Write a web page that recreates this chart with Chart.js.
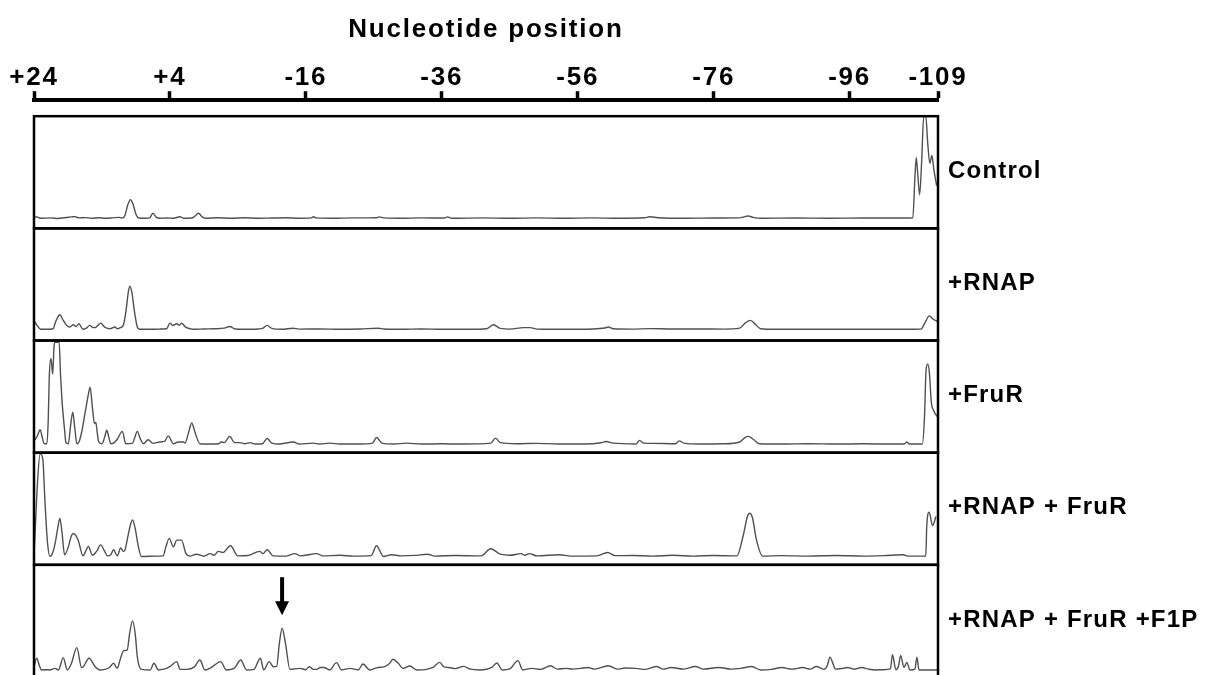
<!DOCTYPE html>
<html lang="en">

<head>
    <meta charset="UTF-8">
    <title>Nucleotide position</title>
    <script src="https://cdn.jsdelivr.net/npm/chart.js"></script>
    <style>
        body {
            margin: 0;
            background: #fff;
            overflow: hidden;
        }
    </style>
</head>

<body>
    <canvas id="traces" width="1205" height="690"></canvas>

    <script>
        // tick marks on the top axis (nucleotide position)
        const tickValues = [24, 4, -16, -36, -56, -76, -96, -109];
        const panelLabels = ['Control', '+RNAP', '+FruR', '+RNAP + FruR', '+RNAP + FruR +F1P'];

        // [position, intensity], intensity in % of panel height
        const controlTrace = [
            [24, 9], [23.8, 10.5], [23, 9], [21.5, 9.3], [20.5, 8.8], [19.5, 9.5], [18.5, 10.2], [18, 10.5],
            [17.4, 9.3], [16.5, 9.6], [15.5, 9], [14.5, 9.4], [13.5, 9], [12.5, 9.3], [11.5, 9.8], [11, 9.2],
            [10.6, 12], [10.2, 21], [9.8, 25.5], [9.4, 21], [9, 12.5], [8.6, 9.2], [7.5, 9], [7, 9.3],
            [6.5, 13.5], [6, 9.8], [5.5, 9], [4.5, 9.2], [3.5, 9], [2.5, 10.3], [2, 9], [0.8, 9.2],
            [0.3, 11], [-0.2, 13.5], [-0.7, 10.5], [-1.2, 9], [-3, 9.4], [-5, 9], [-7, 9.5], [-9, 9],
            [-11, 9.2], [-13, 9.4], [-15, 9], [-16.8, 9.3], [-17.1, 10.3], [-17.5, 9.3], [-20, 9], [-23, 9.3],
            [-26.4, 9.5], [-26.8, 10.2], [-27.5, 9.3], [-30, 9], [-33, 9.3], [-36.4, 9.2], [-36.8, 10.2],
            [-37.5, 9], [-42, 9.3], [-46, 9], [-50, 9.3], [-54, 9], [-58, 9.3], [-62, 9], [-65.8, 9.4],
            [-66.6, 10.3], [-67.8, 9.5], [-72, 9], [-76, 9.2], [-79.8, 9.3], [-80.6, 10.5], [-81.1, 11],
            [-81.8, 9.8], [-83, 9], [-88, 9.2], [-93, 9], [-98, 9.2], [-103, 9.2], [-105.3, 9.5],
            [-105.6, 45], [-105.8, 63], [-106, 50], [-106.3, 30], [-106.6, 60], [-106.9, 100], [-107.2, 100],
            [-107.5, 75], [-107.8, 58], [-108.1, 65], [-108.4, 52], [-108.8, 38]
        ];

        const rnapTrace = [
            [24, 18], [23.6, 14], [23, 10], [22, 10], [21.2, 10.5], [20.8, 17], [20.2, 23], [19.7, 18],
            [19.2, 13.5], [18.8, 12], [18.2, 14], [17.8, 12.5], [17.4, 15], [16.8, 10], [16.3, 11], [15.8, 13.5],
            [15.3, 11.5], [15, 11.5], [14.6, 13.5], [14.2, 15.5], [13.6, 12], [12.8, 10.5], [12.1, 12],
            [11.7, 10.5], [11.3, 11.5], [10.9, 13], [10.5, 25], [10.1, 44], [9.9, 48.5], [9.6, 43], [9.2, 25],
            [8.8, 12], [8.5, 10], [7, 10], [5.5, 10.2], [4.5, 10.5], [4, 15.5], [3.6, 13.5], [3, 15],
            [2.6, 13.5], [2.3, 15.5], [1.7, 12], [1, 10.5], [0.6, 10], [-1, 10.3], [-2.5, 10.5], [-4, 11],
            [-4.8, 12.5], [-5.6, 10.3], [-7, 10], [-9, 10.3], [-9.7, 11], [-10.3, 13.5], [-11, 10.8],
            [-12.5, 10], [-14.1, 11], [-15, 10.2], [-18, 10.3], [-21, 10], [-24, 10.3], [-26.6, 11],
            [-27.5, 10.3], [-30, 10], [-33, 10.3], [-36, 10], [-40, 10], [-42.6, 10.5], [-43.6, 14],
            [-44.6, 10.8], [-46, 10.2], [-48, 11.5], [-49, 11.5], [-50, 10.2], [-52, 10], [-56, 10],
            [-60, 11.2], [-60.5, 12], [-61.2, 10.5], [-64, 10.2], [-66.6, 10.6], [-70, 10.3], [-74, 10.3],
            [-77.5, 10.2], [-79.8, 11], [-80.7, 16], [-81.4, 18], [-82.2, 14], [-82.9, 10.5], [-85, 10],
            [-90, 10], [-95, 10], [-100, 10], [-104, 10], [-106.5, 10.2], [-107.1, 16], [-107.7, 22],
            [-108.3, 19], [-108.9, 17]
        ];

        const fruRTrace = [
            [24, 10.5], [23.5, 15], [23.1, 20.5], [22.8, 14], [22.5, 8], [22.1, 8], [21.9, 30], [21.75, 68],
            [21.5, 84], [21.25, 70], [21.05, 95], [20.9, 98.5], [20.3, 98.5], [20.1, 70], [19.9, 48], [19.7, 33],
            [19.5, 20], [19.3, 9], [18.95, 8], [18.6, 25], [18.3, 36], [18, 22], [17.7, 8], [17.35, 10],
            [17, 18], [16.5, 35], [16, 52], [15.75, 58.3], [15.4, 40], [15.1, 26], [14.9, 27], [14.7, 18],
            [14.5, 10], [14, 8], [13.6, 14], [13.3, 20], [13, 14], [12.7, 8], [12.2, 9], [11.75, 12],
            [11, 19], [10.5, 8], [9.5, 8.5], [9.2, 13], [8.8, 19], [8.4, 13], [7.9, 8], [7.2, 11.5],
            [6.5, 8.3], [5.5, 9.5], [4.8, 10], [4.25, 15], [3.5, 8], [2.8, 9.5], [2, 9.5], [1.8, 8.5],
            [1.3, 17], [0.8, 26.5], [0.3, 18], [-0.4, 8], [-2, 7.7], [-3.2, 8], [-3.5, 9.5], [-4, 9],
            [-4.8, 14.5], [-5.5, 9], [-6.3, 9], [-7, 8], [-7.8, 9], [-8.5, 7.7], [-9.6, 8], [-10.3, 12.7],
            [-11, 8.5], [-12, 7.7], [-14.2, 9.5], [-15, 7.7], [-17.1, 8.5], [-18, 7.7], [-19.5, 8.5],
            [-21, 7.7], [-24, 7.7], [-25.8, 8.5], [-26.4, 13.5], [-27.2, 8.5], [-29, 7.7], [-30.8, 8.5],
            [-33, 7.7], [-36, 7.9], [-39, 7.7], [-43.2, 8.5], [-43.9, 13], [-44.6, 9], [-47, 8], [-50, 8.3],
            [-53, 7.8], [-57, 7.7], [-59.4, 8.8], [-60.2, 10], [-61.2, 8.5], [-64.6, 7.8], [-65.1, 11],
            [-65.7, 8.5], [-67, 8.3], [-70.4, 8], [-70.9, 10.5], [-71.6, 8.5], [-74, 7.7], [-77.5, 7.9],
            [-79.8, 9.5], [-80.6, 13.5], [-81.1, 14.5], [-81.9, 11.5], [-82.7, 8], [-86, 7.7], [-90, 8],
            [-94, 7.7], [-98, 7.9], [-102, 7.7], [-104.1, 8], [-104.4, 9.5], [-104.8, 7.8], [-106.7, 7.8],
            [-107, 30], [-107.25, 74], [-107.5, 79], [-107.75, 70], [-108, 46], [-108.4, 37], [-108.9, 32]
        ];

        const rnapFruRTrace = [
            [24, 8.5], [23.75, 40], [23.5, 72], [23.1, 99], [22.7, 94], [22.4, 58], [22, 19], [21.65, 7.5],
            [21.3, 10], [20.9, 19], [20.5, 33], [20.2, 41.3], [19.9, 30], [19.5, 9], [18.95, 16], [18.5, 26],
            [18.2, 28], [17.5, 22], [16.8, 8], [16.4, 12], [16, 16.4], [15.4, 8.5], [14.8, 12], [14.2, 17.8],
            [13.6, 12], [13.2, 8], [12.7, 9], [12.3, 13.4], [11.75, 8], [11.25, 15], [10.85, 12], [10.6, 13.5],
            [10.2, 25], [9.8, 36], [9.5, 40], [9.1, 32], [8.7, 18], [8.2, 7.5], [6, 7.8], [5, 8],
            [4.6, 16], [4.1, 23.6], [3.5, 16], [3, 22], [2.3, 22], [1.65, 10], [1.05, 7.8], [0.1, 9.5],
            [-1, 7.7], [-1.9, 10], [-2.5, 8.5], [-3.1, 12], [-3.8, 11], [-4.9, 17], [-6, 8], [-7.5, 8.3],
            [-9.2, 12], [-9.7, 10], [-10.3, 13.4], [-11.2, 8], [-13, 7.8], [-14.4, 10], [-15.2, 8],
            [-17.6, 10], [-18.5, 8], [-21, 8.5], [-23, 7.8], [-25.6, 8.2], [-26.4, 17], [-27.4, 7.5],
            [-28.6, 9], [-30, 8], [-32, 8.4], [-33.9, 9.5], [-35, 7.8], [-38, 8.3], [-41.8, 8], [-43.2, 14.3],
            [-44.6, 9.5], [-46, 8.5], [-47.7, 10], [-48.2, 8.5], [-48.9, 10], [-50, 8], [-53.3, 9], [-55, 7.8],
            [-58.8, 8], [-60.4, 11], [-61.5, 8.2], [-64, 8.3], [-67, 7.8], [-70, 8.5], [-73, 7.8], [-76, 8.3],
            [-79.4, 8], [-80.3, 25], [-81, 44], [-81.3, 46], [-81.7, 42], [-82.3, 22], [-83.2, 7.8],
            [-86, 8.2], [-90, 7.8], [-94, 8.3], [-98, 7.8], [-101, 8.2], [-103.9, 9], [-104.5, 7.8],
            [-107.2, 7.8], [-107.35, 35], [-107.7, 47], [-108.2, 35], [-108.7, 43]
        ];

        const f1pTrace = [
            [24, 9.2], [23.6, 16.7], [23.2, 10], [22.9, 6.3], [22.2, 6.5], [21.65, 6.3], [20.9, 7.7], [20.4, 6.3],
            [19.7, 17.3], [19.1, 6.3], [18.5, 12], [17.7, 26.2], [17, 8.5], [16.75, 9.2], [15.9, 16.7], [15, 9.2],
            [14.3, 6.3], [13.6, 6.8], [12.9, 8.5], [12.3, 12.2], [11.75, 7.7], [11.35, 15], [10.8, 23.5],
            [10.3, 24], [9.9, 40], [9.5, 50], [9.1, 38], [8.8, 18], [8.2, 6.8], [6.9, 6.3], [6.35, 12.2],
            [5.7, 6.3], [4, 9.2], [3, 13.7], [2.5, 6.8], [1.55, 6.8], [0.4, 9], [-0.4, 15.2], [-1.15, 6.3],
            [-2.1, 8.5], [-3.45, 13.7], [-4.3, 6.3], [-5.5, 8], [-6.4, 15.2], [-7.3, 6.3], [-8.35, 6.8],
            [-9.3, 16.7], [-9.8, 6.3], [-10.6, 13.7], [-11.2, 9.2], [-11.7, 9.5], [-12.1, 30], [-12.5, 43.5],
            [-13, 30], [-13.65, 6.8], [-15.1, 7.7], [-16, 6.5], [-16.5, 9.2], [-17.1, 6.8], [-17.6, 6.8],
            [-18.1, 8.5], [-18.65, 8.5], [-19.5, 6.3], [-20.5, 12.8], [-21.25, 6.3], [-22.5, 7.7], [-23.7, 6.3],
            [-24.4, 11.6], [-25.4, 6.3], [-26.6, 8.5], [-27.5, 9], [-28.3, 12], [-28.8, 15.8], [-29.6, 12.2],
            [-30.3, 7.7], [-31.3, 9.8], [-32.3, 6.3], [-33.75, 6.8], [-34.7, 8.5], [-35.7, 13], [-36.3, 9],
            [-37, 8.5], [-38, 7.5], [-39.2, 9.5], [-40.2, 7], [-41.6, 6.3], [-43.35, 8.5], [-44.1, 12.5],
            [-44.9, 6.3], [-46, 7.2], [-47.2, 14.6], [-47.9, 6.3], [-49.2, 7.7], [-50.5, 6.8], [-52, 10],
            [-53, 7], [-54.3, 7.7], [-55.3, 7], [-56.4, 7.7], [-57.5, 8.5], [-58.5, 7], [-60.5, 10], [-61.8, 7],
            [-63, 8], [-64.5, 7.7], [-66, 6.8], [-67.6, 9.3], [-68.6, 7], [-69.7, 8.5], [-71.5, 7], [-73.3, 9.3],
            [-74.5, 7], [-76.8, 8.5], [-78.5, 7], [-80, 7.7], [-81.6, 9.3], [-82.9, 6.3], [-84.5, 6.8],
            [-86, 8.5], [-87.5, 7], [-89.1, 8.5], [-90.2, 7], [-91.1, 9.3], [-92.2, 6.8], [-92.7, 10],
            [-93.1, 17.7], [-93.6, 11], [-93.9, 7], [-95, 7.7], [-95.7, 8.5], [-96.7, 7], [-97.7, 8.5],
            [-98.8, 7], [-99.8, 6.3], [-101, 6.5], [-102, 7.2], [-102.3, 19.9], [-102.8, 6.5], [-103.2, 10],
            [-103.5, 19.3], [-104, 8.5], [-104.4, 13], [-104.9, 6.3], [-105.6, 7], [-105.9, 17.7],
            [-106.2, 6.3], [-108.9, 6.3]
        ];

        // arrow over the new band in the last lane
        const arrowPos = -12.5;
        const arrowFrom = 89;
        const arrowTo = 55;

        const traces = [controlTrace, rnapTrace, fruRTrace, rnapFruRTrace, f1pTrace];
        const fontFamily = '"Liberation Sans", Arial, sans-serif';

        // y axes stacked on the left: a small gap under the top axis, then one per lane
        const scales = {
            x: {
                type: 'linear',
                position: 'top',
                min: -109,
                max: 24,
                reverse: true,
                afterBuildTicks: scale => {
                    scale.ticks = tickValues.map(v => ({ value: v }));
                },
                ticks: {
                    autoSkip: false,
                    maxRotation: 0,
                    padding: 0,
                    color: '#000',
                    font: { family: fontFamily, size: 26, weight: 'bold', lineHeight: 1 },
                    callback: v => (v > 0 ? '+' + v : String(v))
                },
                grid: {
                    drawOnChartArea: false,
                    drawTicks: true,
                    tickLength: 9,
                    tickWidth: 3.5,
                    tickColor: '#000'
                },
                border: { display: true, width: 4, color: '#000' }
            },
            gap: {
                type: 'linear',
                position: 'left',
                stack: 'lanes',
                stackWeight: 16,
                weight: 10,
                display: false
            }
        };
        traces.forEach((t, i) => {
            scales['y' + i] = {
                type: 'linear',
                position: 'left',
                stack: 'lanes',
                stackWeight: 112.2,
                weight: 9 - i,
                min: 0,
                max: 100,
                display: false
            };
        });

        const lanePlugin = {
            id: 'lanes',
            beforeDraw(chart) {
                chart.ctx.letterSpacing = '1.8px';
            },
            afterDatasetsDraw(chart) {
                const ctx = chart.ctx;
                const area = chart.chartArea;
                ctx.save();
                ctx.strokeStyle = '#000';
                ctx.lineWidth = 2.5;
                traces.forEach((t, i) => {
                    const s = chart.scales['y' + i];
                    ctx.strokeRect(area.left, s.top, area.right - area.left, s.bottom - s.top);
                });

                // lane names on the right
                ctx.letterSpacing = '1.2px';
                ctx.fillStyle = '#000';
                ctx.font = 'bold 24px ' + fontFamily;
                ctx.textAlign = 'left';
                ctx.textBaseline = 'middle';
                panelLabels.forEach((label, i) => {
                    const s = chart.scales['y' + i];
                    ctx.fillText(label, area.right + 10, (s.top + s.bottom) / 2 - 1);
                });

                // arrow
                const last = chart.scales['y' + (traces.length - 1)];
                const ax = chart.scales.x.getPixelForValue(arrowPos);
                const yTop = last.getPixelForValue(arrowFrom);
                const yTip = last.getPixelForValue(arrowTo);
                ctx.lineWidth = 4;
                ctx.beginPath();
                ctx.moveTo(ax, yTop);
                ctx.lineTo(ax, yTip - 10);
                ctx.stroke();
                ctx.beginPath();
                ctx.moveTo(ax - 7, yTip - 14);
                ctx.lineTo(ax + 7, yTip - 14);
                ctx.lineTo(ax, yTip);
                ctx.closePath();
                ctx.fill();
                ctx.restore();
            }
        };

        new Chart(document.getElementById('traces'), {
            type: 'line',
            data: {
                datasets: traces.map((t, i) => ({
                    label: panelLabels[i],
                    yAxisID: 'y' + i,
                    data: t.map(p => ({ x: p[0], y: p[1] })),
                    borderColor: '#505050',
                    borderWidth: 1.4,
                    pointRadius: 0,
                    cubicInterpolationMode: 'monotone',
                    fill: false
                }))
            },
            options: {
                responsive: false,
                animation: false,
                layout: { padding: { left: 34, right: 267, top: 0, bottom: 13 } },
                plugins: {
                    legend: { display: false },
                    tooltip: { enabled: false },
                    title: {
                        display: true,
                        text: 'Nucleotide position',
                        color: '#000',
                        font: { family: fontFamily, size: 26, weight: 'bold' },
                        padding: { top: 14, bottom: 20 }
                    }
                },
                scales: scales
            },
            plugins: [lanePlugin]
        });
    </script>
</body>

</html>
